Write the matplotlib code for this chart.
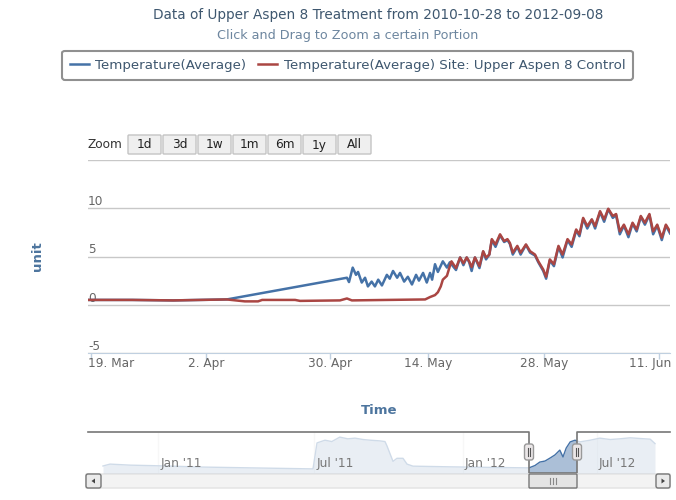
import matplotlib
matplotlib.use("Agg")
import matplotlib.pyplot as plt
import matplotlib.transforms as mtransforms
from matplotlib.patches import FancyBboxPatch, Polygon
from matplotlib.lines import Line2D

# ---- data (x = position on the ordinal day axis) ----
main_ticks = [0, 14, 29, 41, 55, 69]
main_tick_labels = ["19. Mar", "2. Apr", "30. Apr", "14. May", "28. May", "11. Jun"]

treat_early_x = [-0.4, 5, 10, 16.5, 31.1, 31.35, 31.8, 32.2, 32.45, 32.9,
                 33.3, 33.65, 34.1, 34.5, 34.9, 35.35, 35.95, 36.3, 36.7, 37.2,
                 37.55, 38.05, 38.5, 39.0, 39.5, 39.85, 40.35, 40.8, 41.2, 41.45,
                 41.8, 42.15, 42.75, 43.25, 43.6]
treat_early_y = [0.5, 0.5, 0.45, 0.55, 2.8, 2.35, 3.85, 3.1, 3.4, 2.3,
                 2.8, 1.9, 2.4, 1.9, 2.6, 2.0, 3.1, 2.7, 3.5, 2.8,
                 3.3, 2.4, 2.9, 2.1, 3.1, 2.5, 3.3, 2.3, 3.3, 2.6,
                 4.2, 3.4, 4.5, 3.85, 4.4]

ctrl_early_x = [-0.4, 5, 10, 16.5, 18.7, 20.3, 20.8, 24.8, 25.4, 30.25, 31.1, 31.7,
                36, 40.6, 41.2, 41.8, 42.15, 42.5, 42.75, 43.25, 43.6, 43.8]
ctrl_early_y = [0.5, 0.5, 0.45, 0.55, 0.35, 0.35, 0.5, 0.5, 0.4, 0.45, 0.65, 0.45,
                0.5, 0.55, 0.8, 1.0, 1.3, 1.9, 2.6, 3.0, 4.0, 4.5]

late_x = [44.35, 44.85, 45.25, 45.65, 45.95, 46.25, 46.65, 47.2, 47.65, 48.0,
          48.4, 48.7, 49.15, 49.7, 50.2, 50.6, 50.9, 51.25, 51.8, 52.2,
          52.85, 53.35, 53.95, 54.35, 54.95, 55.3, 55.75, 56.25, 56.8, 57.3,
          57.9, 58.4, 58.95, 59.35, 59.8, 60.3, 60.85, 61.25, 61.85, 62.35,
          62.85, 63.4, 63.8, 64.25, 64.75, 65.3, 65.8, 66.3, 66.8, 67.3,
          67.85, 68.3, 68.8, 69.35, 69.85, 70.35]
ctrl_late_y = [3.8, 4.9, 4.3, 4.9, 4.5, 3.9, 4.9, 4.0, 5.55, 4.9,
               5.2, 6.8, 6.25, 7.3, 6.6, 6.8, 6.4, 5.4, 6.1, 5.4,
               6.25, 5.55, 5.2, 4.5, 3.65, 2.9, 4.7, 4.2, 6.1, 5.2,
               6.8, 6.25, 7.8, 7.3, 9.0, 8.15, 8.85, 8.15, 9.7, 8.85,
               9.95, 9.2, 9.4, 7.6, 8.3, 7.3, 8.5, 7.8, 9.2, 8.5,
               9.4, 7.6, 8.3, 6.95, 8.3, 7.6]
treat_late_y = [3.6, 4.9, 4.1, 4.9, 4.4, 3.5, 4.9, 3.8, 5.5, 4.7,
                5.2, 6.7, 6.0, 7.2, 6.5, 6.7, 6.3, 5.2, 6.0, 5.2,
                6.2, 5.4, 5.1, 4.4, 3.5, 2.7, 4.6, 4.0, 6.0, 4.9,
                6.7, 6.0, 7.7, 7.1, 8.9, 7.9, 8.8, 7.9, 9.6, 8.6,
                9.9, 9.0, 9.3, 7.3, 8.2, 7.0, 8.4, 7.6, 9.1, 8.3,
                9.3, 7.3, 8.2, 6.7, 8.2, 7.4]

treat_x = treat_early_x + late_x
treat_y = treat_early_y + treat_late_y
ctrl_x = ctrl_early_x + late_x
ctrl_y = ctrl_early_y + ctrl_late_y

# navigator (whole record, ordinal days since 2010-10-28)
nav_x = [0, 8.75, 33.75, 71, 121, 184, 262.5, 267.5, 277.5, 286, 296, 306, 315,
         325, 334, 346, 352.5, 355, 362.5, 367.5, 375, 380, 387.5, 434, 496,
         532.5, 540, 546, 552.5, 559, 565, 571, 575, 579, 584, 590, 596, 609,
         621, 634, 646, 659, 671, 684, 690]
nav_y = [1.05, 1.6, 1.3, 1.1, 0.75, 0.5, 0.2, 7.8, 8.6, 8.2, 9.5, 9.0, 9.2,
         8.8, 8.6, 8.4, 8.2, 6.9, 2.4, 3.3, 3.3, 1.6, 1.0, 0.8, 0.6,
         0.5, 1.2, 2.2, 2.5, 3.4, 4.3, 5.7, 3.7, 6.3, 8.1, 8.6, 8.1, 8.6,
         9.2, 8.8, 9.0, 9.3, 9.1, 8.9, 7.6]
nav_ticks = [69, 264, 450, 617.5]
nav_tick_labels = ["Jan '11", "Jul '11", "Jan '12", "Jul '12"]
nav_window = (532.5, 592.5)

zoom_buttons = ["1d", "3d", "1w", "1m", "6m", "1y", "All"]

title = "Data of Upper Aspen 8 Treatment from 2010-10-28 to 2012-09-08"
subtitle = "Click and Drag to Zoom a certain Portion"

BLUE = "#4572A7"
RED = "#AA4643"

W, H = 676, 500
fig = plt.figure(figsize=(W / 100, H / 100), dpi=100)
fig.patch.set_facecolor("white")


def fx(px):
    return px / W


def fy(py):
    return 1 - py / H


def box(x0, y0, w, h, r=2, **kw):
    # pixel box (top-left origin), drawn in inches so corners stay round
    p = FancyBboxPatch((x0 / 100, (H - y0 - h) / 100), w / 100, h / 100,
                       boxstyle="round,pad=0,rounding_size=%f" % (r / 100),
                       transform=fig.dpi_scale_trans, **kw)
    fig.add_artist(p)
    return p


# ---- main chart ----
ax = fig.add_axes([fx(88), fy(353), fx(670) - fx(88), (353 - 160) / H])
ax.plot(treat_x, treat_y, color=BLUE, lw=1.8, solid_joinstyle="round",
        label="Temperature(Average)")
ax.plot(ctrl_x, ctrl_y, color=RED, lw=1.8, solid_joinstyle="round",
        label="Temperature(Average) Site: Upper Aspen 8 Control")
ax.set_xlim(-0.36, 70.35)
ax.set_ylim(-5, 15)

ax.set_yticks([-5, 0, 5, 10, 15])
ax.set_yticklabels(["-5", "0", "5", "10", ""], ha="left", va="bottom")
ax.tick_params(axis="y", length=0, pad=0, labelsize=8.7, labelcolor="#666666")
ax.grid(axis="y", color="#C8C8C8", lw=1)
ax.set_axisbelow(True)

ax.set_xticks(main_ticks)
ax.set_xticklabels(main_tick_labels)
ax.tick_params(axis="x", direction="out", length=4, width=1, color="#C0D0E0",
               pad=-1, labelsize=8.7, labelcolor="#666666")
xl = ax.get_xticklabels()
xl[0].set_ha("left")
xl[0].set_transform(xl[0].get_transform() +
                    mtransforms.ScaledTranslation(-0.03, 0, fig.dpi_scale_trans))
xl[-1].set_transform(xl[-1].get_transform() +
                     mtransforms.ScaledTranslation(-0.09, 0, fig.dpi_scale_trans))

for s in ["top", "right", "left"]:
    ax.spines[s].set_visible(False)
ax.spines["bottom"].set_color("#C0D0E0")
ax.spines["bottom"].set_zorder(3)

ax.set_xlabel("Time", fontsize=9.5, fontweight="bold", color="#4D759E", labelpad=24)
ax.set_ylabel("unit", fontsize=9.5, fontweight="bold", color="#4D759E", labelpad=32)

# ---- titles and legend ----
fig.text(fx(378), fy(15), title, ha="center", va="center", fontsize=9.8, color="#3E576F")
fig.text(fx(348), fy(36), subtitle, ha="center", va="center", fontsize=9.2, color="#6D869F")

handles, labels = ax.get_legend_handles_labels()
leg = fig.legend(handles, labels, loc="center", bbox_to_anchor=(fx(347.5), fy(65)),
                 ncol=2, fontsize=9.6, handlelength=1.4, handletextpad=0.5,
                 columnspacing=0.9, borderpad=0.6, fancybox=True, framealpha=1,
                 edgecolor="#909090", labelcolor="#3E576F")
leg.get_frame().set_linewidth(1.5)

# ---- range selector buttons ----
fig.text(fx(87), fy(145), "Zoom", ha="left", va="center", fontsize=8.7, color="#333333")
for i, lab in enumerate(zoom_buttons):
    x0 = 128 + i * 35
    box(x0, 135, 33, 19, r=1, fc="#EFEFEF", ec="#C4C4C4", lw=1)
    fig.text(fx(x0 + 16.5), fy(145), lab, ha="center", va="center",
             fontsize=8.7, color="#222222")

# ---- navigator ----
axn = fig.add_axes([fx(88), fy(473), fx(670) - fx(88), 41 / H])
nx0, nx1 = -18.75, 708.75
axn.set_xlim(nx0, nx1)
axn.set_ylim(-1, 11)
for t in nav_ticks:
    axn.axvline(t, color="#E2E2E2", lw=1, zorder=0)
axn.fill_between(nav_x, nav_y, -1, color=BLUE, alpha=0.45, lw=0, zorder=1)
axn.plot(nav_x, nav_y, color=BLUE, lw=1, zorder=2)
lo, hi = nav_window
axn.axvspan(nx0, lo, color="white", alpha=0.75, lw=0, zorder=3)
axn.axvspan(hi, nx1, color="white", alpha=0.75, lw=0, zorder=3)
lab_tr = mtransforms.offset_copy(axn.get_xaxis_transform(), fig=fig, x=2, y=0, units="dots")
for t, lab in zip(nav_ticks, nav_tick_labels):
    axn.text(t, 0.22, lab, transform=lab_tr, ha="left", va="center",
             fontsize=8.7, color="#777777", zorder=4)
axn.plot([nx0, lo, lo, hi, hi, nx1], [1, 1, 0, 0, 1, 1],
         transform=axn.get_xaxis_transform(), color="#777777", lw=1.2,
         clip_on=False, zorder=5)
axn.set_xticks([])
axn.set_yticks([])
for s in axn.spines.values():
    s.set_visible(False)

lo_px = axn.transData.transform((lo, 0))[0]
hi_px = axn.transData.transform((hi, 0))[0]

# scrollbar
box(86, 474, 584, 14, r=0, fc="#F3F3F3", ec="#E2E2E2", lw=1)
box(lo_px, 474, hi_px - lo_px, 14, r=1, fc="#E4E4E4", ec="#777777", lw=1)
for dx in (-3, 0, 3):
    fig.add_artist(Line2D([fx(lo_px + (hi_px - lo_px) / 2 + dx)] * 2, [fy(478), fy(484)],
                          color="#888888", lw=0.8))
box(86, 474, 15, 14, r=2, fc="#EAEAEA", ec="#777777", lw=1)
box(656, 474, 14, 14, r=2, fc="#EAEAEA", ec="#777777", lw=1)
fig.add_artist(Polygon([[fx(91.5), fy(481)], [fx(95), fy(478.5)], [fx(95), fy(483.5)]],
                       closed=True, fc="#444444", ec="none"))
fig.add_artist(Polygon([[fx(665), fy(481)], [fx(661.5), fy(478.5)], [fx(661.5), fy(483.5)]],
                       closed=True, fc="#444444", ec="none"))

# navigator handles
for hx in (lo_px, hi_px):
    box(hx - 4.5, 444, 9, 16, r=2.5, fc="#EBE7E8", ec="#999999", lw=1, zorder=6)
    for dx in (-1.2, 1.2):
        fig.add_artist(Line2D([fx(hx + dx)] * 2, [fy(448), fy(456)],
                              color="#555555", lw=0.8, zorder=7))

fig.savefig("out.png", dpi=100)
